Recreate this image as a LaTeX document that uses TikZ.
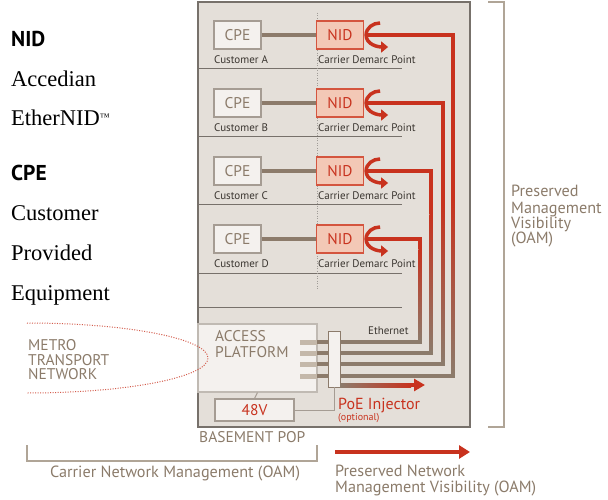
\documentclass[tikz,border=0pt]{standalone}
\usepackage{fontspec}
\setmainfont{Liberation Serif}
\setsansfont{PT Sans}
\usetikzlibrary{calc,arrows.meta}

\definecolor{popfill}{HTML}{E4DFD9}
\definecolor{popline}{HTML}{77716B}
\definecolor{taupe}{HTML}{8B7B6A}
\definecolor{oamred}{HTML}{C8321E}
\definecolor{cablebrown}{HTML}{8C7B6B}
\definecolor{bracketgray}{HTML}{B0A597}
\definecolor{cpefill}{HTML}{F4F1EE}
\definecolor{cpeline}{HTML}{A59C93}
\definecolor{nidfill}{HTML}{F3C8B6}
\definecolor{nidline}{HTML}{D4553F}
\definecolor{portfill}{HTML}{C4B8AA}
\definecolor{darktext}{HTML}{3A3530}

\newcommand{\fsz}[1]{\fontsize{#1}{#1}\selectfont}

\begin{document}
\begin{tikzpicture}[x = 1pt, y = 1pt,
	cpe/.style = {draw = cpeline, fill = cpefill, line width = 1.2, inner sep = 0,
		minimum width = 47, minimum height = 28, text = taupe, font = \sffamily\fsz{15.5}},
	nid/.style = {cpe, draw = nidline, fill = nidfill, text = oamred},
	small/.style = {anchor = base west, inner sep = 0, text = darktext, font = \sffamily\fsz{11}},
	caption/.style = {anchor = base west, inner sep = 0, text = taupe, font = \sffamily\fsz{16.2}},
	capitals/.style = {caption, font = \sffamily\fsz{15.5}},
	cable/.style = {cablebrown, line width = 3.5},
	route/.style = {oamred, line width = 3.5},
	curl/.style = {oamred, line width = 3.5, -{Triangle[length = 7, width = 11]}},
	thinline/.style = {cpeline, line width = 1}]
	
	\useasboundingbox (0, 0) rectangle (608, 499);
	
	%	basement pop
	\draw[popline, line width = 2, fill = popfill] (198, 72) rectangle (470, 497);
	\foreach \y in {430, 362, 294, 226, 192}
		\draw[popline, line width = 1] (198, \y) -- (402, \y);
	\draw[popline!70, line width = 1, dash pattern = on 1pt off 1.5pt] (317, 486) -- (317, 209);
	\node[capitals] (pop) at (199, 57) {BASEMENT POP};
	
	%	access platform
	\node[draw = cpeline!70, fill = cpefill, line width = 1.2, inner sep = 0,
		minimum width = 119, minimum height = 68] (platform) at (257.5, 141) {};
	\node[capitals] (access) at (215, 158) {ACCESS};
	\node[capitals] (platformtext) at (215, 142) {PLATFORM};
	
	%	customers
	\foreach \n/\y/\xv/\yb/\yf in {A/464/453/123/300, B/396/443/135/295, C/328/431/146/285, D/260/420/157/250}{
		\node[cpe] (cpe\n) at (237.5, \y) {CPE};
		\node[nid] (nid\n) at (340, \y) {NID};
		\node[small] (cust\n) at (214, \y - 28.5) {Customer \n};
		\node[small] (demarc\n) at (318, \y - 28.5) {Carrier Demarc Point};
		\draw[cable] (cpe\n) -- (nid\n);
		\fill[portfill] (300, \yb - 2.5) rectangle (317, \yb + 2.5);
		\coordinate (port\n) at (317, \yb);
		\coordinate (bend\n) at (\xv, \yb);
		% terug naar platform
		\draw[route] ($(nid\n.east) + (2, 0)$) -| (\xv, \yf);
		\shade[top color = oamred, bottom color = cablebrown] (\xv - 1.75, \yb) rectangle (\xv + 1.75, \yf);
		\draw[cable] (\xv, \yb + 1.75) -- (bend\n) -- (port\n);
		\draw[curl] ($(nid\n.east) + (16, 12)$) to[out = 180, in = 90] ($(nid\n.east) + (2, 0)$)
			to[out = -90, in = 180] ($(nid\n.east) + (24, -12)$);
	}
	\node[small] (ethernet) at (368, 165) {Ethernet};
	
	%	poe injector
	\node[draw = cablebrown, fill = cpefill, line width = 0.8, inner sep = 0,
		minimum width = 12, minimum height = 56] (poe) at (334, 140) {};
	\coordinate (poeout) at ($(poe.south east) + (0, 2)$);
	\coordinate (outend) at (425, 114);
	\shade[left color = cablebrown, right color = oamred]
		($(poeout) + (0, -1.75)$) rectangle ($(outend) + (-14, 1.75)$);
	\draw[route, -{Triangle[length = 11, width = 12]}] ($(outend) + (-14.5, 0)$) -- (outend);
	\node[caption, text = oamred, font = \sffamily\fsz{16}] (poetext) at (338, 89.5) {PoE Injector};
	\node[caption, text = oamred, font = \sffamily\fsz{10}] (optional) at (338, 79) {(optional)};
	
	%	48V
	\node[cpe, minimum width = 79, minimum height = 22, text = oamred] (volt) at (254.5, 89) {48V};
	\draw[thinline] (platform.south) -- (volt.north);
	\draw[thinline] (volt.east) -| (poe.south);
	
	%	metro
	\draw[oamred!80, line width = 1, dash pattern = on 1pt off 1.5pt]
		(27, 176) arc[start angle = 90, end angle = -90, x radius = 181, y radius = 35];
	\foreach \t/\b [count = \i] in {METRO/149, TRANSPORT/134, NETWORK/120}
		\node[capitals] (metro\i) at (28, \b) {\t};
	
	%	left legend
	\node[anchor = base west, inner sep = 0, font = \sffamily\bfseries\fsz{21.5}] (nidhead) at (11, 452) {NID};
	\node[anchor = base west, inner sep = 0, font = \sffamily\bfseries\fsz{21.5}] (cpehead) at (11, 318) {CPE};
	\foreach \t/\b [count = \i] in {Accedian/412, EtherNID\raisebox{5pt}{\fsz{10}™}/373, Customer/279, Provided/239, Equipment/199}
		\node[anchor = base west, inner sep = 0, font = \rmfamily\fsz{22.5}] (legend\i) at (11, \b) {\t};
	
	%	brackets
	\draw[bracketgray, line width = 1.2] (488, 497) -- (504, 497) -- (504, 72) -- (488, 72);
	\draw[bracketgray, line width = 1.2] (27, 54) -- (27, 38) -- (317, 38) -- (317, 54);
	\foreach \t/\b [count = \i] in {Preserved/302, Management/286, Visibility/271, (OAM)/256}
		\node[caption] (oam\i) at (511, \b) {\t};
	\node[caption] (carrier) at (50, 22) {Carrier Network Management (OAM)};
	
	%	legenda pijl
	\coordinate (legstart) at (335, 47);
	\coordinate (legend) at (470, 47);
	\draw[route, -{Triangle[length = 11, width = 13]}] (legstart) -- (legend);
	\node[caption] (preserved1) at (335, 23) {Preserved Network};
	\node[caption] (preserved2) at (335, 7) {Management Visibility (OAM)};
\end{tikzpicture}
\end{document}
